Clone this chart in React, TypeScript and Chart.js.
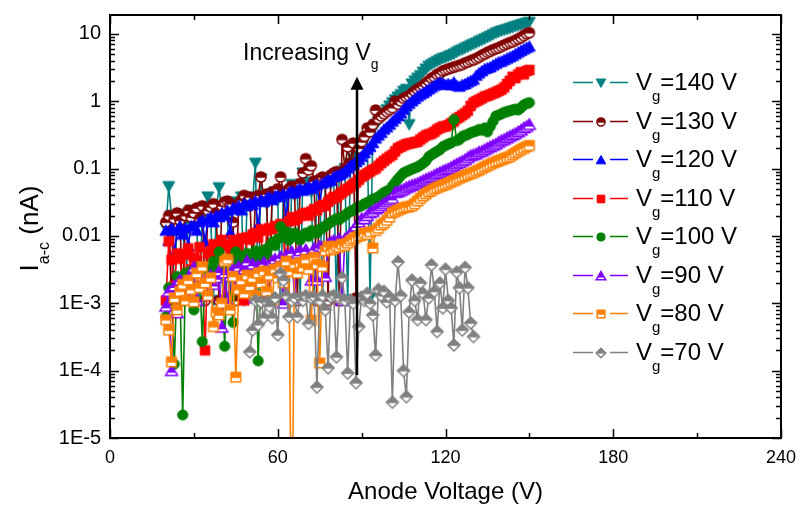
import React, { useEffect, useRef } from 'react';
import { Chart, registerables } from 'chart.js';

Chart.register(...registerables);

const FONT = '"Liberation Sans", Arial, Helvetica, sans-serif';

// Anode voltage (V) for every measured point
const anodeVoltage = [
  20, 21, 22, 23, 24, 25, 26, 27, 28, 29,
  30, 31, 32, 33, 34, 35, 36, 37, 38, 39,
  40, 41, 42, 43, 44, 45, 46, 47, 48, 49,
  50, 51, 52, 53, 54, 55, 56, 57, 58, 59,
  60, 61, 62, 63, 64, 65, 66, 67, 68, 69,
  70, 71, 72, 73, 74, 75, 76, 77, 78, 79,
  80, 81, 82, 83, 84, 85, 86, 87, 88, 89,
  90, 91, 92, 93, 94, 95, 96, 97, 98, 99,
  100, 101, 102, 103, 104, 105, 106, 107, 108, 109,
  110, 111, 112, 113, 114, 115, 116, 117, 118, 119,
  120, 121, 122, 123, 124, 125, 126, 127, 128, 129,
  130, 131, 132, 133, 134, 135, 136, 137, 138, 139,
  140, 141, 142, 143, 144, 145, 146, 147, 148, 149,
  150,
];
// The Vg = 70 V curve was recorded from 50 V to 130 V only
const anodeVoltage70 = anodeVoltage.slice(30, 111);

// I_a-c (nA)
const current140 = [
  0.013, 0.054, 0.02, 0.0011, 0.019, 0.015, 0.021, 0.0011, 0.017, 0.024,
  0.022, 0.016, 0.0011, 0.02, 0.026, 0.038, 0.021, 0.0011, 0.025, 0.052,
  0.024, 0.028, 0.02, 0.0011, 0.027, 0.032, 0.024, 0.038, 0.0011, 0.03,
  0.027, 0.033, 0.12, 0.0011, 0.07, 0.036, 0.03, 0.0011, 0.04, 0.045,
  0.034, 0.0011, 0.042, 0.038, 0.0011, 0.058, 0.04, 0.045, 0.0011, 0.086,
  0.05, 0.063, 0.045, 0.0011, 0.055, 0.06, 0.0011, 0.065, 0.07, 0.06,
  0.075, 0.0011, 0.085, 0.09, 0.1, 0.0011, 0.12, 0.14, 0.16, 0.19,
  0.22, 0.26, 0.3, 0.0012, 0.38, 0.45, 0.5, 0.58, 0.66, 0.75,
  0.85, 0.95, 1.05, 1.15, 1.25, 1.4, 1.5, 0.45, 1.8, 2.0,
  2.2, 2.4, 2.7, 3.0, 3.3, 3.5, 3.7, 3.9, 4.1, 4.3,
  4.4, 4.6, 4.8, 5.0, 5.3, 5.6, 5.8, 6.1, 6.4, 6.7,
  7.0, 7.3, 7.7, 8.0, 8.4, 8.8, 9.2, 9.7, 10.2, 10.6,
  11.0, 11.3, 11.6, 12.0, 12.4, 12.8, 13.2, 13.6, 14.0, 14.4,
  14.8,
];
const current130 = [
  0.016, 0.02, 0.0011, 0.018, 0.022, 0.017, 0.0011, 0.02, 0.024, 0.019,
  0.022, 0.026, 0.018, 0.028, 0.0011, 0.024, 0.027, 0.03, 0.022, 0.0011,
  0.028, 0.032, 0.033, 0.03, 0.016, 0.0011, 0.03, 0.034, 0.04, 0.032,
  0.038, 0.0032, 0.035, 0.04, 0.075, 0.036, 0.042, 0.0011, 0.045, 0.04,
  0.05, 0.075, 0.045, 0.0011, 0.05, 0.055, 0.048, 0.0011, 0.06, 0.086,
  0.14, 0.095, 0.11, 0.065, 0.0011, 0.07, 0.075, 0.072, 0.0011, 0.08,
  0.086, 0.09, 0.0011, 0.27, 0.1, 0.21, 0.12, 0.24, 0.0012, 0.2,
  0.25, 0.3, 0.4, 0.35, 0.45, 0.74, 0.55, 0.6, 0.65, 0.7,
  0.75, 0.8, 1.0, 0.9, 1.0, 1.1, 1.15, 1.2, 1.3, 1.4,
  1.5, 1.6, 1.7, 1.85, 2.0, 2.2, 2.3, 2.5, 2.6, 2.8,
  2.9, 3.0, 3.1, 3.2, 3.3, 3.4, 3.5, 3.7, 3.8, 4.0,
  4.1, 4.3, 4.5, 4.8, 5.0, 5.3, 5.5, 5.8, 6.0, 6.2,
  6.5, 6.8, 7.1, 7.4, 7.6, 8.0, 8.4, 8.8, 9.4, 10.0,
  10.4,
];
const current120 = [
  0.012, 0.0085, 0.013, 0.0055, 0.012, 0.014, 0.0105, 0.013, 0.007, 0.014,
  0.014, 0.012, 0.016, 0.017, 0.008, 0.018, 0.019, 0.016, 0.02, 0.019,
  0.022, 0.02, 0.024, 0.011, 0.026, 0.025, 0.028, 0.024, 0.03, 0.028,
  0.03, 0.029, 0.033, 0.014, 0.034, 0.032, 0.036, 0.038, 0.034, 0.039,
  0.04, 0.038, 0.042, 0.018, 0.044, 0.046, 0.043, 0.048, 0.05, 0.047,
  0.05, 0.054, 0.05, 0.056, 0.058, 0.028, 0.06, 0.063, 0.068, 0.066,
  0.075, 0.078, 0.08, 0.085, 0.09, 0.1, 0.11, 0.115, 0.125, 0.135,
  0.15, 0.17, 0.19, 0.21, 0.24, 0.28, 0.31, 0.34, 0.38, 0.41,
  0.45, 0.5, 0.55, 0.6, 0.66, 0.75, 0.85, 0.92, 1.0, 1.08,
  1.17, 1.25, 1.32, 1.4, 1.5, 1.6, 1.7, 1.8, 1.9, 1.85,
  1.75, 1.8, 1.75, 1.9, 1.7, 1.65, 1.75, 1.8, 1.9, 2.0,
  2.1, 2.4, 2.6, 2.8, 3.0, 3.1, 3.2, 3.4, 3.6, 3.8,
  3.9, 4.1, 4.3, 4.5, 4.7, 5.0, 5.3, 5.6, 5.9, 6.2,
  6.5,
];
const current110 = [
  0.0011, 0.0083, 0.0044, 0.0018, 0.0055, 0.0046, 0.0018, 0.0053, 0.0065, 0.0032,
  0.0048, 0.0044, 0.0068, 0.0035, 0.0002, 0.0055, 0.006, 0.0075, 0.0058, 0.0066,
  0.0087, 0.0011, 0.0072, 0.0058, 0.0087, 0.0075, 0.0068, 0.0092, 0.0011, 0.0095,
  0.0088, 0.0105, 0.011, 0.0095, 0.0125, 0.0011, 0.012, 0.013, 0.0125, 0.014,
  0.0135, 0.015, 0.0145, 0.0011, 0.0165, 0.019, 0.017, 0.018, 0.02, 0.021,
  0.022, 0.02, 0.023, 0.025, 0.024, 0.027, 0.029, 0.028, 0.032, 0.035,
  0.038, 0.037, 0.041, 0.044, 0.047, 0.05, 0.054, 0.058, 0.062, 0.068,
  0.075, 0.08, 0.085, 0.09, 0.096, 0.1, 0.11, 0.12, 0.13, 0.14,
  0.15, 0.16, 0.18, 0.2, 0.21, 0.22, 0.23, 0.235, 0.24, 0.245,
  0.25, 0.27, 0.29, 0.31, 0.32, 0.33, 0.35, 0.38, 0.4, 0.42,
  0.42, 0.44, 0.47, 0.5, 0.55, 0.58, 0.62, 0.66, 0.72, 0.85,
  0.95, 1.0, 1.05, 1.1, 1.17, 1.2, 1.25, 1.3, 1.35, 1.42,
  1.48, 1.6, 1.8, 2.0, 2.3, 2.2, 2.5, 2.7, 2.5, 2.8,
  2.9,
];
const current100 = [
  0.00063, 0.0017, 0.0015, 0.000125, 0.0025, 0.0018, 0.000022, 0.0028, 0.0016, 0.003,
  0.0008, 0.0022, 0.0035, 0.00027, 0.0025, 0.0032, 0.002, 0.0042, 0.003, 0.0058,
  0.0032, 0.00023, 0.0045, 0.00125, 0.00052, 0.0058, 0.004, 0.0049, 0.00175, 0.0055,
  0.004, 0.005, 0.006, 0.00014, 0.0046, 0.0062, 0.0055, 0.007, 0.008, 0.0072,
  0.009, 0.0137, 0.0096, 0.0115, 0.0087, 0.0105, 0.011, 0.0095, 0.0087, 0.0102,
  0.011, 0.0098, 0.012, 0.0115, 0.011, 0.0125, 0.013, 0.014, 0.015, 0.016,
  0.017, 0.018, 0.0175, 0.019, 0.02, 0.022, 0.023, 0.024, 0.026, 0.027,
  0.028, 0.03, 0.031, 0.033, 0.035, 0.036, 0.038, 0.041, 0.044, 0.046,
  0.048, 0.055, 0.062, 0.07, 0.078, 0.086, 0.09, 0.094, 0.098, 0.102,
  0.106, 0.112, 0.12, 0.13, 0.15, 0.16, 0.17, 0.18, 0.19, 0.21,
  0.22, 0.23, 0.24, 0.53, 0.26, 0.27, 0.3, 0.31, 0.32, 0.34,
  0.35, 0.36, 0.38, 0.37, 0.4, 0.35, 0.42, 0.5, 0.6, 0.62,
  0.65, 0.68, 0.7, 0.72, 0.74, 0.76, 0.74, 0.8, 0.88, 0.92,
  0.95,
];
const current90 = [
  0.0009, 0.0015, 0.0001, 0.0018, 0.00072, 0.0022, 0.0015, 0.002, 0.0012, 0.0028,
  0.0034, 0.0011, 0.0025, 0.0018, 0.0022, 0.0013, 0.0026, 0.0019, 0.0024, 0.003,
  0.00044, 0.0028, 0.00105, 0.0025, 0.0032, 0.0019, 0.0035, 0.0028, 0.0032, 0.0042,
  0.003, 0.0038, 0.0012, 0.0036, 0.0031, 0.004, 0.0035, 0.0011, 0.0042, 0.0045,
  0.0038, 0.0049, 0.001, 0.0052, 0.0044, 0.0058, 0.0012, 0.0055, 0.006, 0.0045,
  0.0062, 0.005, 0.0022, 0.0065, 0.0022, 0.007, 0.0068, 0.0025, 0.0075, 0.008,
  0.0085, 0.008, 0.009, 0.0011, 0.009, 0.0095, 0.011, 0.012, 0.014, 0.016,
  0.018, 0.018, 0.02, 0.022, 0.023, 0.025, 0.026, 0.028, 0.03, 0.032,
  0.034, 0.036, 0.044, 0.045, 0.047, 0.049, 0.052, 0.054, 0.056, 0.058,
  0.06, 0.063, 0.066, 0.069, 0.072, 0.075, 0.079, 0.083, 0.087, 0.091,
  0.095, 0.099, 0.104, 0.11, 0.116, 0.122, 0.128, 0.135, 0.145, 0.155,
  0.16, 0.165, 0.175, 0.18, 0.19, 0.2, 0.21, 0.22, 0.23, 0.245,
  0.26, 0.27, 0.285, 0.3, 0.315, 0.33, 0.35, 0.37, 0.4, 0.42,
  0.45,
];
const current80 = [
  0.00057, 0.0004, 0.000135, 0.0012, 0.0008, 0.0015, 0.0019, 0.0011, 0.0022, 0.0016,
  0.00105, 0.0028, 0.0017, 0.0035, 0.002, 0.0013, 0.0024, 0.00045, 0.00074, 0.00067,
  0.001, 0.0042, 0.0045, 0.0008, 0.0025, 0.00008, 0.0016, 0.0022, 0.0014, 0.0026,
  0.0018, 0.0024, 0.0013, 0.0028, 0.002, 0.003, 0.0015, 0.0026, 0.0011, 0.0032,
  0.0024, 0.0035, 0.002, 0.0042, 0.003, 0.0000001, 0.0038, 0.0028, 0.004, 0.0034,
  0.0045, 0.0032, 0.00056, 0.0048, 0.0038, 0.00013, 0.0035, 0.006, 0.007, 0.0062,
  0.0065, 0.007, 0.0068, 0.0075, 0.0072, 0.0078, 0.0085, 0.009, 0.0095, 0.01,
  0.0102, 0.011, 0.0105, 0.0115, 0.0066, 0.012, 0.013, 0.0145, 0.0155, 0.017,
  0.019, 0.022, 0.023, 0.024, 0.025, 0.026, 0.027, 0.027, 0.028, 0.03,
  0.033, 0.036, 0.039, 0.042, 0.045, 0.047, 0.05, 0.052, 0.054, 0.056,
  0.058, 0.06, 0.063, 0.066, 0.069, 0.072, 0.075, 0.078, 0.081, 0.084,
  0.087, 0.091, 0.095, 0.1, 0.105, 0.11, 0.115, 0.12, 0.125, 0.13,
  0.135, 0.14, 0.145, 0.15, 0.16, 0.17, 0.18, 0.19, 0.2, 0.21,
  0.22,
];
const current70 = [
  0.00019, 0.0004, 0.0011, 0.00048, 0.00105, 0.00061, 0.00105, 0.0009, 0.00061, 0.0012,
  0.00034, 0.0028, 0.0022, 0.0013, 0.00063, 0.0011, 0.0012, 0.00063, 0.00124, 0.0011,
  0.0013, 0.0005, 0.0012, 0.00124, 0.000057, 0.0011, 0.0013, 0.0008, 0.00011, 0.00124,
  0.0013, 0.00016, 0.0012, 0.0024, 0.0011, 0.000092, 0.00112, 0.001, 0.000066, 0.00045,
  0.00124, 0.0011, 0.0014, 0.001, 0.00067, 0.00017, 0.0016, 0.0013, 0.0015, 0.00105,
  0.00124, 0.000034, 0.0011, 0.0041, 0.0013, 0.0001, 0.000041, 0.00074, 0.0022, 0.0011,
  0.00057, 0.002, 0.0014, 0.00057, 0.0012, 0.0037, 0.0015, 0.00038, 0.002, 0.00085,
  0.0032, 0.0011, 0.00085, 0.00024, 0.0029, 0.0017, 0.0004, 0.0034, 0.0017, 0.00051,
  0.00032,
];

const gateVoltages = ['140', '130', '120', '110', '100', '90', '80', '70'];
const seriesColors = ['#008080', '#800000', '#0000FF', '#FF0000', '#008000', '#8000FF', '#FF8000', '#808080'];
const markerKinds = ['triDown', 'circle', 'triUp', 'square', 'circle', 'triUp', 'square', 'diamond'];
const markerHalf = [false, true, false, false, false, true, true, true];
const seriesX = [anodeVoltage, anodeVoltage, anodeVoltage, anodeVoltage, anodeVoltage, anodeVoltage, anodeVoltage, anodeVoltage70];
const seriesY = [current140, current130, current120, current110, current100, current90, current80, current70];

const xTickValues = [0, 60, 120, 180, 240];
const xMinorTickValues = [30, 90, 150, 210];
const yTickValues = [1e-5, 1e-4, 1e-3, 0.01, 0.1, 1, 10];
const yTickLabels = ['1E-5', '1E-4', '1E-3', '0.01', '0.1', '1', '10'];
const yMinorMultipliers = [2, 3, 4, 5, 6, 7, 8, 9];

function shapePath(g: CanvasRenderingContext2D, kind: string, c: number, k: number) {
  g.beginPath();
  if (kind === 'triDown') {
    g.moveTo(c - 6 * k, c - 5 * k);
    g.lineTo(c + 6 * k, c - 5 * k);
    g.lineTo(c, c + 5.5 * k);
  } else if (kind === 'triUp') {
    g.moveTo(c, c - 5.6 * k);
    g.lineTo(c + 6 * k, c + 4.8 * k);
    g.lineTo(c - 6 * k, c + 4.8 * k);
  } else if (kind === 'square') {
    g.rect(c - 4.8 * k, c - 4.8 * k, 9.6 * k, 9.6 * k);
  } else if (kind === 'circle') {
    g.arc(c, c, 5.1 * k, 0, Math.PI * 2);
  } else {
    g.moveTo(c, c - 6 * k);
    g.lineTo(c + 6 * k, c);
    g.lineTo(c, c + 6 * k);
    g.lineTo(c - 6 * k, c);
  }
  g.closePath();
}

function makeMarker(kind: string, color: string, half: boolean, k: number): HTMLCanvasElement {
  const size = 16;
  const c = 8;
  const cv = document.createElement('canvas');
  cv.width = size;
  cv.height = size;
  const g = cv.getContext('2d') as CanvasRenderingContext2D;
  shapePath(g, kind, c, k);
  if (!half) {
    g.fillStyle = color;
    g.fill();
    g.strokeStyle = color;
    g.lineWidth = 1;
    g.stroke();
  } else {
    g.fillStyle = '#ffffff';
    g.fill();
    g.save();
    g.clip();
    g.fillStyle = color;
    g.fillRect(0, 0, size, kind === 'triUp' ? c + 2 * k : c + 0.8 * k);
    g.restore();
    shapePath(g, kind, c, k);
    g.strokeStyle = color;
    g.lineWidth = 1.5;
    g.stroke();
  }
  return cv;
}

function drawSubText(
  ctx: CanvasRenderingContext2D,
  x: number,
  y: number,
  parts: { t: string; sub?: boolean }[],
  size: number,
  subSize: number,
  subShift: number
) {
  let cx = x;
  for (const p of parts) {
    ctx.font = `${p.sub ? subSize : size}px ${FONT}`;
    ctx.fillText(p.t, cx, p.sub ? y + subShift : y);
    cx += ctx.measureText(p.t).width;
  }
  return cx - x;
}

function measureParts(ctx: CanvasRenderingContext2D, parts: { t: string; sub?: boolean }[], size: number, subSize: number) {
  let w = 0;
  for (const p of parts) {
    ctx.font = `${p.sub ? subSize : size}px ${FONT}`;
    w += ctx.measureText(p.t).width;
  }
  return w;
}

export default function App() {
  const ref = useRef<HTMLCanvasElement>(null);

  useEffect(() => {
    const canvas = ref.current as HTMLCanvasElement;
    const markers = markerKinds.map((kd, i) => makeMarker(kd, seriesColors[i], markerHalf[i], 1));
    const legendMarkers = markerKinds.map((kd, i) => makeMarker(kd, seriesColors[i], markerHalf[i], 0.8));

    const datasets = gateVoltages.map((vg, i) => ({
      label: `Vg=${vg} V`,
      data: seriesX[i].map((x, j) => ({ x, y: seriesY[i][j] })),
      borderColor: seriesColors[i],
      backgroundColor: seriesColors[i],
      borderWidth: 1.6,
      borderJoinStyle: 'round' as const,
      pointStyle: markers[i],
      pointRadius: 6,
      pointHoverRadius: 6,
      showLine: true,
      tension: 0,
      fill: false,
      order: gateVoltages.length - 1 - i,
    }));

    const decor = {
      id: 'decor',
      afterDraw(chart: any) {
        const ctx: CanvasRenderingContext2D = chart.ctx;
        const a = chart.chartArea;
        const xs = chart.scales.x;
        const ys = chart.scales.y;
        ctx.save();
        ctx.fillStyle = '#000';
        ctx.strokeStyle = '#000';

        // frame
        ctx.lineWidth = 2;
        ctx.strokeRect(a.left, a.top, a.right - a.left, a.bottom - a.top);

        // ticks (inward, mirrored on top and right)
        ctx.lineWidth = 1.5;
        ctx.beginPath();
        for (const v of xTickValues) {
          const px = Math.round(xs.getPixelForValue(v)) + 0.5;
          ctx.moveTo(px, a.bottom);
          ctx.lineTo(px, a.bottom - 9);
          ctx.moveTo(px, a.top);
          ctx.lineTo(px, a.top + 9);
        }
        for (const v of xMinorTickValues) {
          const px = Math.round(xs.getPixelForValue(v)) + 0.5;
          ctx.moveTo(px, a.bottom);
          ctx.lineTo(px, a.bottom - 5);
          ctx.moveTo(px, a.top);
          ctx.lineTo(px, a.top + 5);
        }
        for (const v of yTickValues) {
          const py = Math.round(ys.getPixelForValue(v)) + 0.5;
          ctx.moveTo(a.left, py);
          ctx.lineTo(a.left + 9, py);
          ctx.moveTo(a.right, py);
          ctx.lineTo(a.right - 9, py);
          for (const m of yMinorMultipliers) {
            const mv = v * m;
            if (mv > ys.max) continue;
            const my = Math.round(ys.getPixelForValue(mv)) + 0.5;
            ctx.moveTo(a.left, my);
            ctx.lineTo(a.left + 5, my);
            ctx.moveTo(a.right, my);
            ctx.lineTo(a.right - 5, my);
          }
        }
        ctx.stroke();

        // axis titles
        ctx.textBaseline = 'alphabetic';
        ctx.textAlign = 'left';
        const xTitle = 'Anode Voltage (V)';
        ctx.font = `24px ${FONT}`;
        const xw = ctx.measureText(xTitle).width;
        ctx.fillText(xTitle, (a.left + a.right) / 2 - xw / 2, a.bottom + 61);

        const yParts = [{ t: 'I' }, { t: 'a-c', sub: true }, { t: ' (nA)' }];
        const yw = measureParts(ctx, yParts, 26, 16);
        ctx.save();
        ctx.translate(38, (a.top + a.bottom) / 2 + 2);
        ctx.rotate(-Math.PI / 2);
        drawSubText(ctx, -yw / 2, 0, yParts, 26, 16, 11);
        ctx.restore();

        // "Increasing Vg" annotation with arrow
        drawSubText(ctx, a.left + 133, a.top + 45, [{ t: 'Increasing V' }, { t: 'g', sub: true }], 23, 14, 9);
        const ax = Math.round(xs.getPixelForValue(88.4));
        const ayBottom = ys.getPixelForValue(8.6e-5);
        const ayTip = ys.getPixelForValue(2.3);
        ctx.lineWidth = 2.5;
        ctx.beginPath();
        ctx.moveTo(ax, ayBottom);
        ctx.lineTo(ax, ayTip + 12);
        ctx.stroke();
        ctx.beginPath();
        ctx.moveTo(ax, ayTip);
        ctx.lineTo(ax + 6.5, ayTip + 13);
        ctx.lineTo(ax - 6.5, ayTip + 13);
        ctx.closePath();
        ctx.fill();

        // legend
        const lx = a.left + 463;
        const ly0 = a.top + 67;
        const step = 38.5;
        gateVoltages.forEach((vg, i) => {
          const y = Math.round(ly0 + i * step) + 0.5;
          ctx.strokeStyle = seriesColors[i];
          ctx.lineWidth = 1.5;
          ctx.beginPath();
          ctx.moveTo(lx, y);
          ctx.lineTo(lx + 20, y);
          ctx.moveTo(lx + 37, y);
          ctx.lineTo(lx + 55, y);
          ctx.stroke();
          const mk = legendMarkers[i];
          ctx.drawImage(mk, Math.round(lx + 28) - mk.width / 2, Math.round(y) - mk.height / 2);
          ctx.fillStyle = '#000';
          drawSubText(ctx, lx + 63, y + 7.5, [{ t: 'V' }, { t: 'g', sub: true }, { t: `=${vg} V` }], 24, 15, 11);
        });

        ctx.restore();
      },
    };

    const chart = new Chart(canvas, {
      type: 'scatter',
      data: { datasets: datasets as any },
      options: {
        responsive: false,
        animation: false,
        devicePixelRatio: 1,
        events: [],
        layout: { padding: { top: 15, right: 20, left: 0, bottom: 0 } },
        plugins: {
          legend: { display: false },
          tooltip: { enabled: false },
          title: { display: false },
        },
        scales: {
          x: {
            type: 'linear',
            position: 'bottom',
            min: 0,
            max: 240,
            afterBuildTicks: (axis: any) => {
              axis.ticks = xTickValues.map((v) => ({ value: v }));
            },
            afterFit: (axis: any) => {
              axis.height = 72;
              axis.paddingLeft = 0;
              axis.paddingRight = 0;
            },
            ticks: {
              color: '#000',
              font: { family: FONT, size: 18 },
              padding: 9,
              maxRotation: 0,
              autoSkip: false,
            },
            grid: { display: false, drawTicks: false },
            border: { display: false },
          },
          y: {
            type: 'logarithmic',
            min: 1e-5,
            max: 19,
            afterBuildTicks: (axis: any) => {
              axis.ticks = yTickValues.map((v) => ({ value: v }));
            },
            afterFit: (axis: any) => {
              axis.width = 110;
              axis.paddingTop = 0;
              axis.paddingBottom = 0;
            },
            ticks: {
              color: '#000',
              font: { family: FONT, size: 20 },
              padding: 9,
              autoSkip: false,
              callback: (value: any) => {
                const idx = yTickValues.findIndex((t) => Math.abs(Math.log10(t) - Math.log10(Number(value))) < 1e-6);
                return idx >= 0 ? yTickLabels[idx] : '';
              },
            },
            grid: { display: false, drawTicks: false },
            border: { display: false },
          },
        },
      },
      plugins: [decor],
    });

    return () => {
      chart.destroy();
    };
  }, []);

  return (
    <div style={{ position: 'absolute', left: 0, top: 0, width: 801, height: 510, background: '#fff' }}>
      <canvas ref={ref} width={801} height={510} style={{ display: 'block', width: 801, height: 510 }} />
    </div>
  );
}
